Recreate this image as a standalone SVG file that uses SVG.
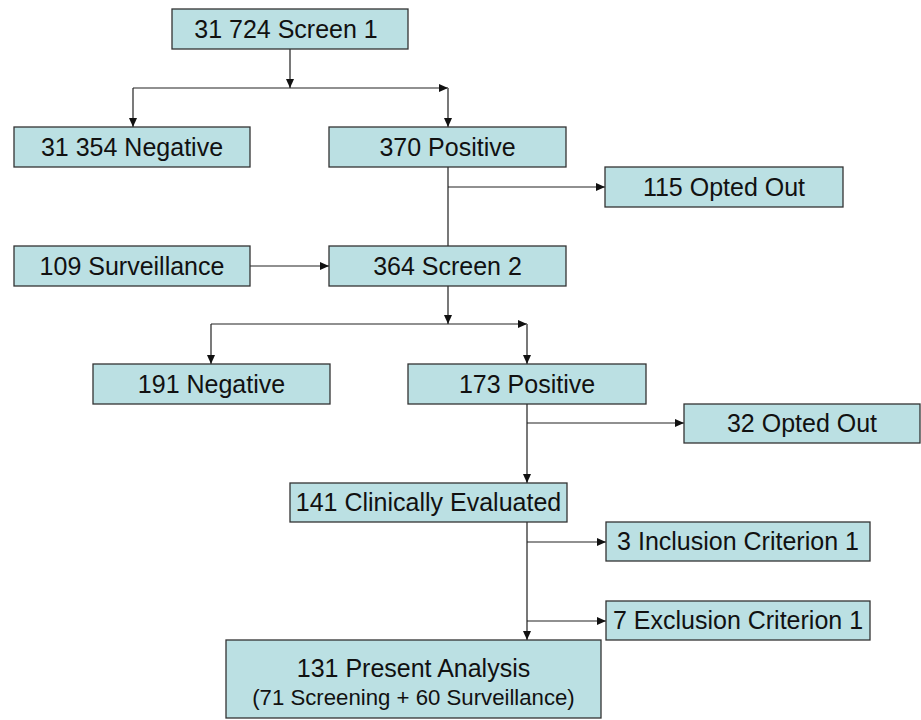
<svg xmlns="http://www.w3.org/2000/svg" width="921" height="720" viewBox="0 0 921 720">
<defs>
<marker id="ah" markerUnits="userSpaceOnUse" markerWidth="10" markerHeight="8" refX="9" refY="4" orient="auto">
<path d="M0,0 L9,4 L0,8 z" fill="#111"/>
</marker>
<style>
.box{fill:#bbe0e3;stroke:#333;stroke-width:1.3}
.t{font-family:"Liberation Sans",Arial,sans-serif;font-size:25px;fill:#111;text-anchor:middle}
.s{font-size:22.2px}
.v{fill:none;stroke:#6a6a6a;stroke-width:1.8}
.h{fill:none;stroke:#222;stroke-width:1.2}
</style>
</defs>
<rect width="921" height="720" fill="#fff"/>
<g id="connectors">
<path class="v" d="M290,49 V88" marker-end="url(#ah)"/>
<path class="h" d="M133,88 H448" marker-end="url(#ah)"/>
<path class="h" d="M133,88 V127" marker-end="url(#ah)"/>
<path class="v" d="M448,88 V127" marker-end="url(#ah)"/>
<path class="v" d="M448,167 V246"/>
<path class="h" d="M448,187 H605" marker-end="url(#ah)"/>
<path class="h" d="M250,266 H329" marker-end="url(#ah)"/>
<path class="v" d="M448,286 V324" marker-end="url(#ah)"/>
<path class="h" d="M211,324 H527" marker-end="url(#ah)"/>
<path class="h" d="M211,324 V364" marker-end="url(#ah)"/>
<path class="v" d="M527,324 V364" marker-end="url(#ah)"/>
<path class="v" d="M527,404 V483" marker-end="url(#ah)"/>
<path class="h" d="M527,423 H684" marker-end="url(#ah)"/>
<path class="v" d="M527,522 V640" marker-end="url(#ah)"/>
<path class="h" d="M527,542 H606" marker-end="url(#ah)"/>
<path class="h" d="M527,621 H606" marker-end="url(#ah)"/>
</g>
<g id="screen1"><rect class="box" x="172" y="9" width="236" height="40"/><text class="t" x="286" y="37.5">31 724 Screen 1</text></g>
<g id="negative1"><rect class="box" x="14" y="127" width="236" height="40"/><text class="t" x="132" y="155.5">31 354 Negative</text></g>
<g id="positive1"><rect class="box" x="329" y="127" width="237" height="40"/><text class="t" x="447.5" y="155.5">370 Positive</text></g>
<g id="optedout1"><rect class="box" x="605" y="167" width="238" height="40"/><text class="t" x="724" y="195.5">115 Opted Out</text></g>
<g id="surveillance"><rect class="box" x="14" y="246" width="236" height="40"/><text class="t" x="132" y="274.5">109 Surveillance</text></g>
<g id="screen2"><rect class="box" x="329" y="246" width="237" height="40"/><text class="t" x="447.5" y="274.5">364 Screen 2</text></g>
<g id="negative2"><rect class="box" x="93" y="364" width="237" height="40"/><text class="t" x="211.5" y="392.5">191 Negative</text></g>
<g id="positive2"><rect class="box" x="408" y="364" width="238" height="40"/><text class="t" x="527" y="392.5">173 Positive</text></g>
<g id="optedout2"><rect class="box" x="684" y="404" width="236" height="39"/><text class="t" x="802" y="432">32 Opted Out</text></g>
<g id="clinical"><rect class="box" x="290" y="483" width="277" height="39"/><text class="t" x="428.5" y="511">141 Clinically Evaluated</text></g>
<g id="inclusion"><rect class="box" x="606" y="522" width="264" height="39"/><text class="t" x="738" y="550">3 Inclusion Criterion 1</text></g>
<g id="exclusion"><rect class="box" x="606" y="601" width="264" height="39"/><text class="t" x="738" y="629">7 Exclusion Criterion 1</text></g>
<g id="analysis"><rect class="box" x="226" y="640" width="375" height="78"/><text class="t" x="413.5" y="677">131 Present Analysis</text><text class="t s" x="413.5" y="705">(71 Screening + 60 Surveillance)</text></g>
</svg>
